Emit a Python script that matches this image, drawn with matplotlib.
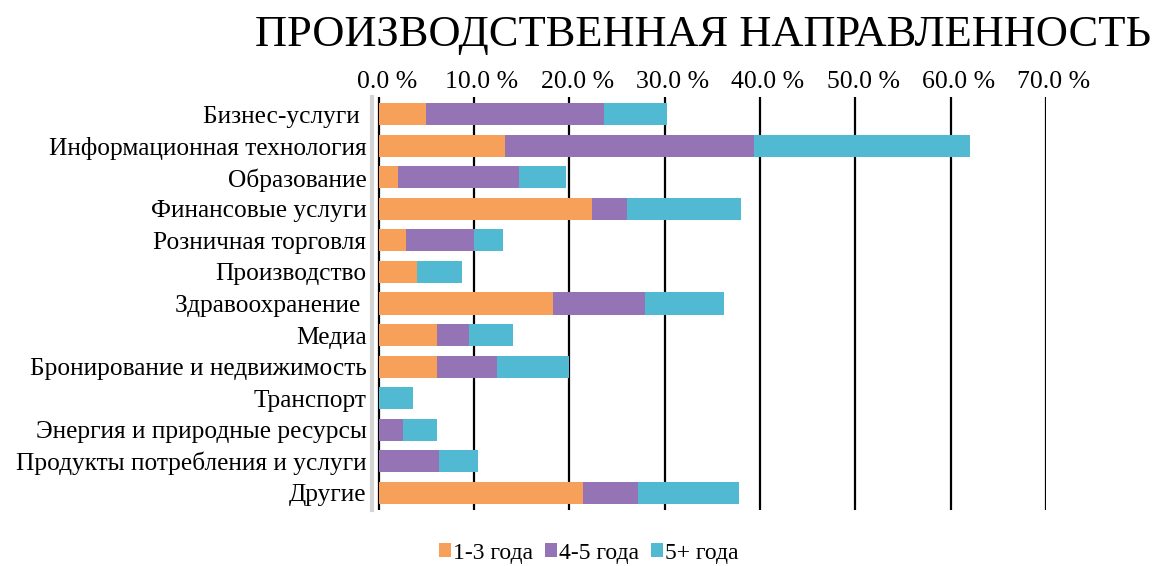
import numpy as np
import matplotlib.pyplot as plt
import matplotlib.transforms as mtransforms
from matplotlib.patches import Patch

plt.rcParams['font.family'] = ['Liberation Serif', 'DejaVu Serif']

categories = ['Бизнес-услуги ', 'Информационная технология', 'Образование',
              'Финансовые услуги', 'Розничная торговля', 'Производство',
              'Здравоохранение ', 'Медиа', 'Бронирование и недвижимость',
              'Транспорт', 'Энергия и природные ресурсы',
              'Продукты потребления и услуги', 'Другие']
series_names = ['1-3 года', '4-5 года', '5+ года']
v13 = [5.0, 13.2, 2.0, 22.4, 2.9, 4.0, 18.3, 6.1, 6.1, 0.0, 0.0, 0.0, 21.4]
v45 = [18.6, 26.2, 12.7, 3.6, 7.1, 0.0, 9.6, 3.4, 6.3, 0.0, 2.5, 6.3, 5.8]
v5p = [6.6, 22.6, 4.9, 12.0, 3.0, 4.7, 8.3, 4.6, 7.6, 3.6, 3.6, 4.1, 10.6]
ticks = [0, 10, 20, 30, 40, 50, 60, 70]

colors = ['#F7A05A', '#9474B4', '#52B9D3']

W, H = 1152, 566
fig = plt.figure(figsize=(W / 100, H / 100), dpi=100)
ax = fig.add_axes([372 / W, 1 - 510 / H, (1046 - 372) / W, (510 - 97) / H])

for s in ['top', 'right', 'bottom']:
    ax.spines[s].set_visible(False)
ax.spines['left'].set_color('#d4d4d4')
ax.spines['left'].set_linewidth(3)

y = np.arange(len(categories))
left = np.zeros(len(categories))
for vals, c in zip([v13, v45, v5p], colors):
    vals = np.array(vals)
    ax.barh(y, vals, left=left, height=0.7, color=c, edgecolor='none', zorder=3)
    left = left + vals

ax.set_xlim(-0.7, 70)
ax.set_ylim(len(categories) - 0.45, -0.55)
ax.set_xticks(ticks)
ax.set_xticklabels(['%.1f %%' % t for t in ticks])
ax.xaxis.tick_top()
ax.tick_params(axis='x', length=0, pad=3, labelsize=18.5)
shift = mtransforms.ScaledTranslation(8 / 100, 0, fig.dpi_scale_trans)
for lbl in ax.get_xticklabels():
    lbl.set_transform(lbl.get_transform() + shift)
ax.set_yticks(y)
ax.set_yticklabels(categories)
ax.tick_params(axis='y', length=0, pad=4, labelsize=18.3)
ax.grid(axis='x', color='black', linewidth=1.6, zorder=1)
ax.grid(axis='y', visible=False)

fig.text(703 / W, 1 - 35 / H, 'ПРОИЗВОДСТВЕННАЯ НАПРАВЛЕННОСТЬ', fontsize=32,
         ha='center', va='center')

handles = [Patch(facecolor=c, edgecolor='none') for c in colors]
fig.legend(handles, series_names, loc='center', bbox_to_anchor=(589 / W, 1 - 553 / H),
           ncol=3, frameon=False, fontsize=17, handlelength=0.5, handleheight=0.5,
           handletextpad=0.1, columnspacing=0.5)

fig.savefig('out.png', dpi=100)
